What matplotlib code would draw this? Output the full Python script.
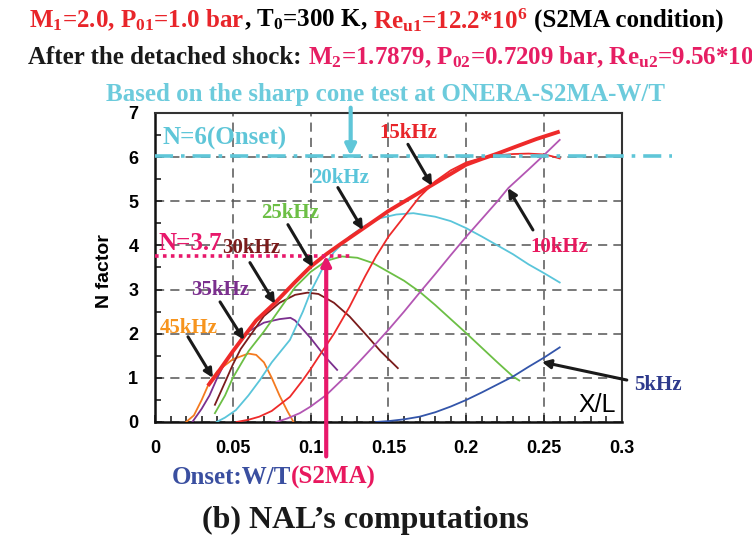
import matplotlib
matplotlib.use("Agg")
import matplotlib.pyplot as plt
from matplotlib.ticker import MultipleLocator

plt.rcParams['mathtext.fontset'] = 'custom'
plt.rcParams['mathtext.rm'] = 'Liberation Serif:bold'
plt.rcParams['mathtext.it'] = 'Liberation Serif:bold'
plt.rcParams['mathtext.bf'] = 'Liberation Serif:bold'

SERIF = 'Liberation Serif'
SANS = 'Liberation Sans'

# N-factor curves (x = X/L, y = N)
x45 = [0.020, 0.025, 0.030, 0.035, 0.040, 0.050, 0.060, 0.065, 0.070, 0.075, 0.080, 0.085, 0.089]
n45 = [0.00, 0.15, 0.50, 0.90, 1.15, 1.42, 1.55, 1.52, 1.35, 1.00, 0.60, 0.25, 0.00]

x35 = [0.024, 0.030, 0.035, 0.040, 0.045, 0.050, 0.055, 0.060, 0.070, 0.080, 0.087, 0.090, 0.100, 0.110, 0.117]
n35 = [0.00, 0.30, 0.60, 1.00, 1.35, 1.60, 1.85, 2.05, 2.25, 2.33, 2.36, 2.30, 1.90, 1.45, 1.18]

x30 = [0.0385, 0.045, 0.050, 0.055, 0.060, 0.065, 0.070, 0.080, 0.090, 0.098, 0.105, 0.115, 0.125, 0.135, 0.145, 0.156]
n30 = [0.39, 0.90, 1.30, 1.65, 1.90, 2.15, 2.40, 2.70, 2.88, 2.93, 2.90, 2.70, 2.39, 2.00, 1.60, 1.22]

x25 = [0.0385, 0.045, 0.050, 0.060, 0.070, 0.080, 0.090, 0.100, 0.110, 0.120, 0.130, 0.140, 0.150,
       0.160, 0.170, 0.180, 0.190, 0.200, 0.210, 0.220, 0.230, 0.234]
n25 = [0.20, 0.60, 1.00, 1.60, 2.05, 2.55, 3.05, 3.40, 3.65, 3.75, 3.72, 3.60, 3.40,
       3.20, 2.95, 2.65, 2.33, 2.01, 1.68, 1.35, 1.03, 0.94]

x20 = [0.0396, 0.045, 0.052, 0.060, 0.0674, 0.075, 0.0867, 0.095, 0.100, 0.108, 0.115, 0.125, 0.135,
       0.145, 0.155, 0.166, 0.180, 0.190, 0.200, 0.210, 0.220, 0.230, 0.240, 0.250, 0.260]
n20 = [0.00, 0.10, 0.27, 0.60, 0.95, 1.35, 1.86, 2.50, 2.95, 3.50, 3.85, 4.20, 4.45,
       4.62, 4.70, 4.73, 4.65, 4.55, 4.39, 4.20, 4.00, 3.80, 3.57, 3.37, 3.16]

x15 = [0.0524, 0.060, 0.067, 0.075, 0.0867, 0.095, 0.100, 0.108, 0.115, 0.125, 0.135, 0.142, 0.150,
       0.160, 0.170, 0.180, 0.190, 0.200, 0.210, 0.220, 0.230, 0.240, 0.250, 0.255, 0.260]
n15 = [0.00, 0.05, 0.12, 0.25, 0.57, 0.95, 1.20, 1.63, 2.00, 2.61, 3.30, 3.75, 4.20,
       4.65, 5.10, 5.45, 5.70, 5.88, 5.98, 6.04, 6.07, 6.08, 6.06, 6.02, 5.97]

x10 = [0.078, 0.085, 0.093, 0.100, 0.110, 0.120, 0.130, 0.140, 0.150, 0.160, 0.170, 0.180, 0.190,
       0.200, 0.210, 0.220, 0.227, 0.240, 0.250, 0.260]
n10 = [0.00, 0.08, 0.20, 0.35, 0.61, 0.95, 1.32, 1.70, 2.09, 2.50, 2.93, 3.35, 3.78,
       4.20, 4.60, 5.00, 5.30, 5.72, 6.05, 6.39]

x5 = [0.142, 0.150, 0.160, 0.170, 0.180, 0.190, 0.200, 0.210, 0.220, 0.230, 0.240, 0.250, 0.260]
n5 = [0.00, 0.02, 0.06, 0.12, 0.22, 0.35, 0.50, 0.67, 0.85, 1.03, 1.25, 1.46, 1.69]

# envelope (thick red)
xenv = [0.034, 0.040, 0.050, 0.057, 0.065, 0.078, 0.090, 0.100, 0.110, 0.120, 0.134, 0.150,
        0.1766, 0.190, 0.200, 0.210, 0.220, 0.232, 0.245, 0.260]
nenv = [0.82, 1.10, 1.60, 1.93, 2.30, 2.73, 3.17, 3.52, 3.80, 4.05, 4.39, 4.78,
        5.34, 5.62, 5.83, 5.96, 6.08, 6.24, 6.41, 6.58]

curves = [
    (x45, n45, '#f47a20'),
    (x35, n35, '#7b2f8e'),
    (x30, n30, '#7a1b1b'),
    (x25, n25, '#6cbf45'),
    (x20, n20, '#5ac5da'),
    (x15, n15, '#ee2a2a'),
    (x10, n10, '#b356b3'),
    (x5, n5, '#3355aa'),
]

# label text, colour, label pos, arrow tail, arrow head
labels = [
    ('15kHz', '#e8252a', (0.1625, 6.55), (0.1625, 6.29), (0.178, 5.35)),
    ('20kHz', '#5ac5da', (0.1188, 5.53), (0.1175, 5.31), (0.1336, 4.35)),
    ('25kHz', '#6cbf45', (0.0867, 4.74), (0.0854, 4.47), (0.1015, 3.51)),
    ('30kHz', '#7a1b1b', (0.0620, 3.95), (0.0610, 3.61), (0.0771, 2.68)),
    ('35kHz', '#7b2f8e', (0.0418, 3.00), (0.0418, 2.72), (0.0572, 1.86)),
    ('45kHz', '#f7941d', (0.0218, 2.14), (0.0212, 1.93), (0.0372, 1.00)),
    ('10kHz', '#e8185e', (0.2601, 3.97), (0.2428, 4.35), (0.2267, 5.30)),
    ('5kHz', '#2e3a8c', (0.3229, 0.84), (0.3031, 0.95), (0.2485, 1.36)),
]

xticks = [0, 0.05, 0.1, 0.15, 0.2, 0.25, 0.3]
xticklabels = ['0', '0.05', '0.1', '0.15', '0.2', '0.25', '0.3']
yticks = [0, 1, 2, 3, 4, 5, 6, 7]

onset_n = 6.03
nal_n = 3.77
onset_x = 0.1257
s2ma_x = 0.110

fig = plt.figure(figsize=(7.52, 5.39), dpi=100)
ax = fig.add_axes([0.2061, 0.2171, 0.621, 0.5733])

for xs, ns, c in curves:
    ax.plot(xs, ns, color=c, lw=1.3, zorder=3)
ax.plot(xenv, nenv, color='#ee2a2a', lw=2.8, zorder=4, solid_capstyle='butt')

ax.set_xlim(0, 0.3)
ax.set_ylim(0, 7)
ax.set_xticks(xticks)
ax.set_xticklabels(xticklabels)
ax.set_yticks(yticks)
ax.xaxis.set_minor_locator(MultipleLocator(0.01))
ax.yaxis.set_minor_locator(MultipleLocator(0.5))
ax.tick_params(which='both', direction='in', width=1.2, colors='#222222')
ax.tick_params(which='major', length=5, labelsize=13, pad=13)
ax.tick_params(axis='y', which='major', pad=12)
ax.tick_params(which='minor', length=4)
for lab in ax.get_xticklabels() + ax.get_yticklabels():
    lab.set_fontfamily(SANS)
    lab.set_fontweight('bold')
    lab.set_color('black')
ax.grid(True, which='major', color='#555555', lw=1.1, linestyle=(0, (6, 4)))
for side in ['left', 'bottom']:
    ax.spines[side].set_linewidth(1.8)
    ax.spines[side].set_color('#111111')
for side in ['top', 'right']:
    ax.spines[side].set_linewidth(1.5)
    ax.spines[side].set_color('#333333')

ax.set_ylabel('N factor', fontfamily=SANS, fontweight='bold', fontsize=14)
ax.yaxis.set_label_coords(-0.09, 0.49)
ax.text(0.284, 0.385, 'X/L', fontfamily=SANS, fontsize=18, ha='center', va='center')

# N=6 onset line and arrow
ax.plot([0, 0.332], [onset_n, onset_n], color='#5fc6d8', lw=2.6,
        linestyle=(0, (5, 2.2, 1, 2.2)), clip_on=False, zorder=5)
ax.annotate('', xy=(onset_x, onset_n), xytext=(onset_x, 7.12), annotation_clip=False,
            arrowprops=dict(arrowstyle='-|>', color='#5fc6d8', lw=3, mutation_scale=16,
                            shrinkA=0, shrinkB=0), zorder=6)
ax.text(0.005, 6.42, 'N=6(Onset)', color='#5fc6d8', fontfamily=SERIF, fontweight='bold',
        fontsize=18, ha='left', va='center')

# N=3.7 line and S2MA arrow
ax.plot([0, 0.125], [nal_n, nal_n], color='#e8186b', lw=2.6, linestyle=(0, (1, 1.2)),
        zorder=5)
ax.text(0.002, 4.05, 'N=3.7', color='#e8186b', fontfamily=SERIF, fontweight='bold',
        fontsize=18, ha='left', va='center')
ax.annotate('', xy=(s2ma_x, nal_n), xytext=(s2ma_x, -0.78), annotation_clip=False,
            arrowprops=dict(arrowstyle='-|>', color='#e8186b', lw=3, mutation_scale=14,
                            shrinkA=0, shrinkB=0), zorder=6)

for txt, c, lp, tail, head in labels:
    ax.text(lp[0], lp[1], txt, color=c, fontfamily=SERIF, fontweight='bold', fontsize=15,
            ha='center', va='center', clip_on=False, zorder=7)
    ax.annotate('', xy=head, xytext=tail, annotation_clip=False,
                arrowprops=dict(arrowstyle='-|>', color='#1a1a1a', lw=2.2, mutation_scale=13,
                                shrinkA=0, shrinkB=0), zorder=7)

# multi-coloured text lines
W, H = 752, 539
renderer = fig.canvas.get_renderer()


def rich_line(x0, y, parts, size, align='left'):
    items = []
    for s, c, gap in parts:
        t = fig.text(0, y, s, color=c, fontfamily=SERIF, fontweight='bold', fontsize=size,
                     ha='left', va='center')
        items.append((t, gap, t.get_window_extent(renderer).width))
    total = sum(g + w for _, g, w in items)
    xp = x0 * W if align == 'left' else x0 * W - total / 2
    for t, gap, w in items:
        xp += gap
        t.set_x(xp / W)
        xp += w


red = '#e8252a'
pink = '#e61e63'
rich_line(376 / W, 1 - 20 / H, [
    ('M$_1$=2.0, P$_{01}$=1.0 bar', red, 0),
    (', T$_0$=300 K,', 'black', 0),
    ('Re$_{u1}$=12.2*10$^6$', red, 6),
    ('(S2MA condition)', 'black', 6),
], 18, align='center')
rich_line(28 / W, 1 - 57 / H, [
    ('After the detached shock:', '#1a1a1a', 0),
    ('M$_2$=1.7879, P$_{02}$=0.7209 bar, Re$_{u2}$=9.56*10', pink, 6),
], 18)
fig.text(385 / W, 1 - 95 / H, 'Based on the sharp cone test at ONERA-S2MA-W/T', color='#6ccbdc',
         fontfamily=SERIF, fontweight='bold', fontsize=18, ha='center', va='center')
rich_line(274 / W, 1 - 477 / H, [
    ('Onset:W/T', '#3a4fa0', 0),
    ('(S2MA)', '#e8185e', 0),
], 18, align='center')
fig.text(365 / W, 1 - 520 / H, '(b) NAL\u2019s computations', color='#1a1a1a',
         fontfamily=SERIF, fontweight='bold', fontsize=23, ha='center', va='center')

fig.savefig('out.png', dpi=100)
